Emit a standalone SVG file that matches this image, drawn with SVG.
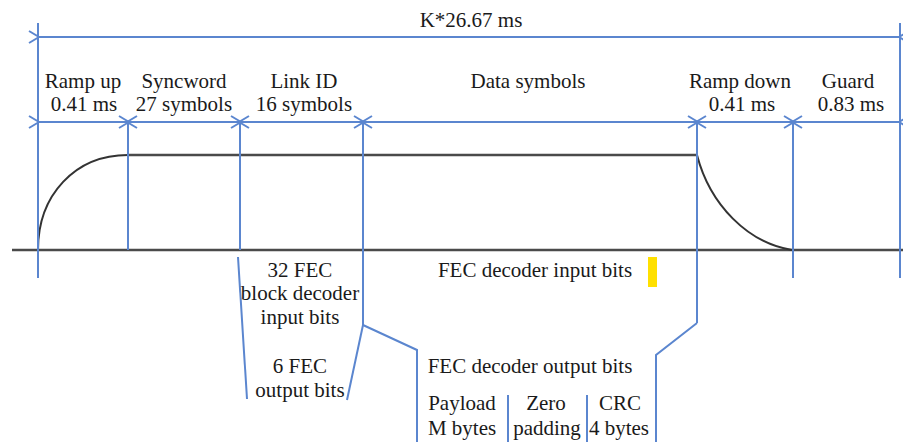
<svg xmlns="http://www.w3.org/2000/svg" width="903" height="442" viewBox="0 0 903 442">
<style>
.b{stroke:#5b86cf;stroke-width:2;fill:none}
.g{stroke:#4a4a4a;stroke-width:2.5;fill:none}
.c{stroke:#333;stroke-width:2;fill:none}
text{font-family:"Liberation Serif","Times New Roman",serif;font-size:21px;fill:#1a1a1a;text-anchor:middle}
</style>
<defs>
<marker id="a" viewBox="0 0 12 14" refX="1" refY="7" markerWidth="12" markerHeight="14" markerUnits="userSpaceOnUse" orient="auto-start-reverse">
<path d="M11,1 L1,7 L11,13" fill="none" stroke="#5b86cf" stroke-width="2"/>
</marker>
</defs>
<g id="signal">
<line class="g" x1="12" y1="250" x2="903" y2="250"/>
<line class="g" x1="128" y1="155" x2="697" y2="155"/>
<path class="c" d="M38,250 C38,195 75,155 128,155"/>
<path class="c" d="M697,155 C710,205 748,243 792,250"/>
</g>
<g id="connectors">
<line class="b" x1="38" y1="23" x2="38" y2="278"/>
<line class="b" x1="900" y1="23" x2="900" y2="278"/>
<line class="b" x1="128" y1="122" x2="128" y2="250"/>
<line class="b" x1="240" y1="122" x2="240" y2="250"/>
<line class="b" x1="363" y1="122" x2="363" y2="325"/>
<line class="b" x1="697" y1="122" x2="697" y2="323"/>
<line class="b" x1="793" y1="122" x2="793" y2="278"/>
<line class="b" x1="39" y1="37" x2="899" y2="37" marker-start="url(#a)" marker-end="url(#a)"/>
<line class="b" x1="39" y1="122" x2="127" y2="122" marker-start="url(#a)" marker-end="url(#a)"/>
<line class="b" x1="129" y1="122" x2="239" y2="122" marker-start="url(#a)" marker-end="url(#a)"/>
<line class="b" x1="241" y1="122" x2="362" y2="122" marker-start="url(#a)" marker-end="url(#a)"/>
<line class="b" x1="364" y1="122" x2="696" y2="122" marker-start="url(#a)" marker-end="url(#a)"/>
<line class="b" x1="698" y1="122" x2="792" y2="122" marker-start="url(#a)" marker-end="url(#a)"/>
<line class="b" x1="794" y1="122" x2="899" y2="122" marker-start="url(#a)" marker-end="url(#a)"/>
<path class="b" d="M238,257 L247,399"/>
<path class="b" d="M363,325 L347,400"/>
<path class="b" d="M363,325 L417,350 L417,442"/>
<path class="b" d="M697,323 L656,355 L656,442"/>
<line class="b" x1="508" y1="395" x2="508" y2="442"/>
<line class="b" x1="587" y1="395" x2="587" y2="442"/>
</g>
<g id="total"><text x="471" y="27">K*26.67 ms</text></g>
<g id="rampup"><text x="83" y="88">Ramp up</text><text x="84" y="111">0.41 ms</text></g>
<g id="syncword"><text x="184" y="88">Syncword</text><text x="184" y="111">27 symbols</text></g>
<g id="linkid"><text x="304" y="88">Link ID</text><text x="304" y="111">16 symbols</text></g>
<g id="data"><text x="528" y="88">Data symbols</text></g>
<g id="rampdown"><text x="740" y="88">Ramp down</text><text x="742" y="111">0.41 ms</text></g>
<g id="guard"><text x="848" y="88">Guard</text><text x="851" y="111">0.83 ms</text></g>
<g id="linkbits">
<text x="300" y="277">32 FEC</text>
<text x="300" y="300">block decoder</text>
<text x="300" y="324">input bits</text>
<text x="300" y="373">6 FEC</text>
<text x="300" y="397">output bits</text>
</g>
<g id="datain"><text x="535" y="277">FEC decoder input bits</text><rect x="648" y="257" width="9" height="30" fill="#ffe000"/></g>
<g id="dataout"><text x="530" y="373">FEC decoder output bits</text></g>
<g id="payload"><text x="462" y="410">Payload</text><text x="462" y="435">M bytes</text></g>
<g id="padding"><text x="546" y="410">Zero</text><text x="547" y="435">padding</text></g>
<g id="crc"><text x="620" y="410">CRC</text><text x="619" y="435">4 bytes</text></g>
</svg>
